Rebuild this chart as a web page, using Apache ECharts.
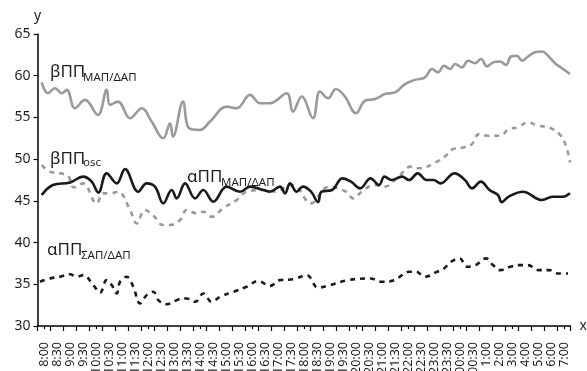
<!DOCTYPE html>
<html>
<head>
<meta charset="utf-8">
<script src="https://cdn.jsdelivr.net/npm/echarts@6/dist/echarts.min.js"></script>
<style>html,body{margin:0;padding:0;background:#fff;}#c{width:587px;height:371px;}</style>
</head>
<body>
<div id="c"></div>
<script>
// Time-slot tick labels (category axis)
const xLabels = ['8:00','8:30','9:00','9:30','10:00','10:30','11:00','11:30','12:00','12:30','13:00','13:30','14:00','14:30','15:00','15:30','16:00','16:30','17:00','17:30','18:00','18:30','19:00','19:30','20:00','20:30','21:00','21:30','22:00','22:30','23:00','23:30','00:00','00:30','1:00','2:00','3:00','4:00','5:00','6:00','7:00'];
const yTicks = [30, 35, 40, 45, 50, 55, 60, 65];

// Series: positions along the time axis (in slot units) and values
const betaMapT = [0.32,0.81,1.35,1.86,2.25,2.88,3.65,4.65,5.32,5.58,6.19,7.12,8.02,8.78,9.68,10.19,10.42,11.19,11.65,12.5,13.27,14.55,15.32,16.35,17.12,17.88,19.17,19.65,20.32,21.19,21.73,22.35,22.96,23.65,24.5,25.19,25.96,26.73,27.5,28.27,29.04,29.81,30.35,30.81,31.27,31.73,32.12,32.65,33.12,33.65,34.12,34.58,35.04,35.58,36.04,36.42,36.88,37.27,37.73,38.27,38.81,39.27,39.81,40.35,40.96];
const betaMapV = [59.2,57.9,58.5,57.9,58.3,56.1,57.1,55.3,58.3,56.5,56.9,54.9,56.1,54.5,52.5,54.3,52.7,56.9,53.7,53.5,54.5,56.3,56.1,57.7,56.7,56.7,57.9,55.7,57.5,54.9,58.1,57.3,58.4,57.5,55.5,57.0,57.2,57.8,58.0,59.0,59.5,59.8,60.8,60.4,61.2,60.8,61.4,61.0,61.8,61.5,62.0,61.1,61.6,61.7,61.3,62.3,62.4,61.8,62.3,62.8,62.9,62.4,61.5,60.9,60.2];

const betaOscT = [0.32,0.96,1.73,2.35,2.81,3.5,4.55,5.06,5.58,6.19,7.12,7.63,8.27,8.88,9.65,10.19,10.96,11.48,12.25,12.73,13.4,14.27,15.32,16.09,17.35,18.4,19.42,19.94,21.04,22.38,23.73,24.27,24.94,25.88,26.69,27.77,28.71,29.38,30.73,31.4,31.94,32.75,33.42,33.96,34.63,35.58,36.25,36.92,37.73,38.54,39.35,40.15,40.65,40.96];
const betaOscV = [49.3,48.5,48.3,48.0,46.6,47.1,44.7,45.9,45.9,46.1,43.9,42.3,43.9,43.3,42.1,42.1,42.7,43.9,43.5,43.7,43.1,44.1,45.1,46.1,46.3,46.1,46.9,46.7,44.7,46.7,46.1,45.3,46.1,46.9,46.7,47.9,49.1,48.9,49.7,50.4,51.2,51.4,51.8,53.0,52.8,52.8,53.6,53.8,54.4,54.0,53.8,53.0,51.6,49.6];

const alphaMapT = [0.32,1.19,2.5,3.5,4.17,4.68,5.32,6.09,6.73,7.75,8.4,9.04,9.68,10.32,10.71,11.35,12.12,12.75,13.52,14.55,15.58,16.35,17.37,17.88,18.65,19.04,19.42,19.94,20.42,21.04,21.58,21.85,22.65,23.46,24.12,24.81,25.62,26.27,26.69,27.23,28.04,28.58,29.25,29.92,30.46,31.0,32.08,32.88,33.42,34.1,34.77,35.42,35.71,36.25,37.33,38.81,39.62,40.42,40.96];
const alphaMapV = [45.7,46.9,47.2,47.9,47.3,46.0,48.3,47.1,48.8,46.1,47.1,46.7,44.7,46.3,45.3,47.1,45.3,46.3,44.9,46.7,46.1,46.7,46.3,46.1,46.7,45.9,47.1,46.1,46.7,46.1,44.85,46.1,46.3,47.7,47.3,46.5,47.7,46.9,47.9,47.5,47.9,47.5,48.3,47.5,47.5,47.1,48.3,47.5,46.5,47.3,46.3,45.7,44.85,45.5,46.1,45.1,45.5,45.5,45.9];

const alphaSapT = [0.19,0.96,1.73,2.5,3.02,3.52,4.29,4.81,5.32,5.71,6.09,6.35,6.86,7.37,7.88,8.4,8.91,9.29,9.94,10.71,11.48,12.12,12.75,13.4,14.04,15.06,16.09,16.98,17.88,18.65,19.68,20.71,21.58,22.5,23.87,25.62,26.42,27.5,28.04,28.58,29.12,29.79,30.73,31.27,31.81,32.48,33.02,33.69,34.5,35.04,35.58,36.38,37.04,37.73,38.54,39.35,40.02,40.81];
const alphaSapV = [35.3,35.7,35.9,36.2,35.9,36.1,34.9,34.0,35.5,34.9,33.9,35.3,35.9,34.7,32.7,33.7,34.1,33.1,32.6,33.1,33.3,32.9,33.9,32.9,33.5,34.1,34.7,35.4,34.8,35.5,35.6,36.1,34.6,34.9,35.5,35.7,35.3,35.5,36.1,36.5,36.5,35.9,36.5,36.9,37.7,38.1,37.1,37.3,38.1,37.3,36.7,37.1,37.3,37.3,36.7,36.7,36.3,36.3];

function pairs(t, v) { return t.map((x, i) => [x, v[i]]); }

const FONT = 'Noto Sans';
const GRAY = '#9a9a9a';
const BLACK = '#1a1a1a';

const chart = echarts.init(document.getElementById('c'), null, {renderer: 'canvas'});
chart.setOption({
  animation: false,
  backgroundColor: '#fff',
  grid: {left: 37.5, right: 16.5, top: 34, bottom: 45, containLabel: false, outerBoundsMode: 'none'},
  xAxis: [
    {
      type: 'category', data: xLabels, position: 'bottom', boundaryGap: true,
      name: 'x', nameLocation: 'end', nameGap: 9,
      nameTextStyle: {fontFamily: FONT, fontSize: 14, color: '#231f20', verticalAlign: 'middle'},
      axisLine: {lineStyle: {color: '#000', width: 1.5}},
      axisTick: {show: true, inside: false, length: 5, lineStyle: {color: '#000', width: 1.2}},
      axisLabel: {interval: 0, rotate: 90, margin: 16, fontFamily: FONT, fontSize: 12.5, color: '#231f20'},
      splitLine: {show: false}
    },
    {
      type: 'category', data: xLabels, position: 'bottom', boundaryGap: true,
      axisLine: {show: false},
      axisTick: {show: true, alignWithLabel: true, inside: false, length: 3, lineStyle: {color: '#000', width: 1.2}},
      axisLabel: {show: false},
      splitLine: {show: false}
    },
    {
      type: 'value', min: 0, max: xLabels.length, position: 'bottom', show: false
    }
  ],
  yAxis: {
    type: 'value', min: yTicks[0], max: yTicks[yTicks.length - 1], interval: 5,
    name: 'y', nameLocation: 'end', nameGap: 11,
    nameTextStyle: {fontFamily: FONT, fontSize: 14, color: '#231f20', align: 'center'},
    axisLine: {show: true, lineStyle: {color: '#000', width: 1.5}},
    axisTick: {show: true, inside: false, length: 4, lineStyle: {color: '#000', width: 1.2}},
    axisLabel: {margin: 7, fontFamily: FONT, fontSize: 14, color: '#231f20'},
    splitLine: {show: false}
  },
  series: [
    {name: 'βΠΠ ΜΑΠ/ΔΑΠ', type: 'line', xAxisIndex: 2, data: pairs(betaMapT, betaMapV), smooth: 0.4, showSymbol: false,
     lineStyle: {color: GRAY, width: 2.6}},
    {name: 'βΠΠ osc', type: 'line', xAxisIndex: 2, data: pairs(betaOscT, betaOscV), smooth: 0.4, showSymbol: false,
     lineStyle: {color: GRAY, width: 2.6, type: [5, 5]}},
    {name: 'αΠΠ ΜΑΠ/ΔΑΠ', type: 'line', xAxisIndex: 2, data: pairs(alphaMapT, alphaMapV), smooth: 0.4, showSymbol: false,
     lineStyle: {color: BLACK, width: 2.6}},
    {name: 'αΠΠ ΣΑΠ/ΔΑΠ', type: 'line', xAxisIndex: 2, data: pairs(alphaSapT, alphaSapV), smooth: 0.4, showSymbol: false,
     lineStyle: {color: BLACK, width: 2.6, type: [5, 5]}}
  ],
  graphic: [
    {type: 'text', left: 50, top: 64, style: {text: 'βΠΠ', font: '17px "Noto Sans"', fill: '#231f20'}},
    {type: 'text', left: 83, top: 72, style: {text: 'ΜΑΠ/ΔΑΠ', font: '11.5px "Noto Sans"', fill: '#231f20'}},
    {type: 'text', left: 50, top: 151, style: {text: 'βΠΠ', font: '17px "Noto Sans"', fill: '#231f20'}},
    {type: 'text', left: 83, top: 157, style: {text: 'osc', font: '11.5px "Noto Sans"', fill: '#231f20'}},
    {type: 'text', left: 187, top: 169, style: {text: 'αΠΠ', font: '17px "Noto Sans"', fill: '#231f20'}},
    {type: 'text', left: 221, top: 177, style: {text: 'ΜΑΠ/ΔΑΠ', font: '11.5px "Noto Sans"', fill: '#231f20'}},
    {type: 'text', left: 47, top: 242, style: {text: 'αΠΠ', font: '17px "Noto Sans"', fill: '#231f20'}},
    {type: 'text', left: 81, top: 250, style: {text: 'ΣΑΠ/ΔΑΠ', font: '11.5px "Noto Sans"', fill: '#231f20'}}
  ]
});
</script>
</body>
</html>
